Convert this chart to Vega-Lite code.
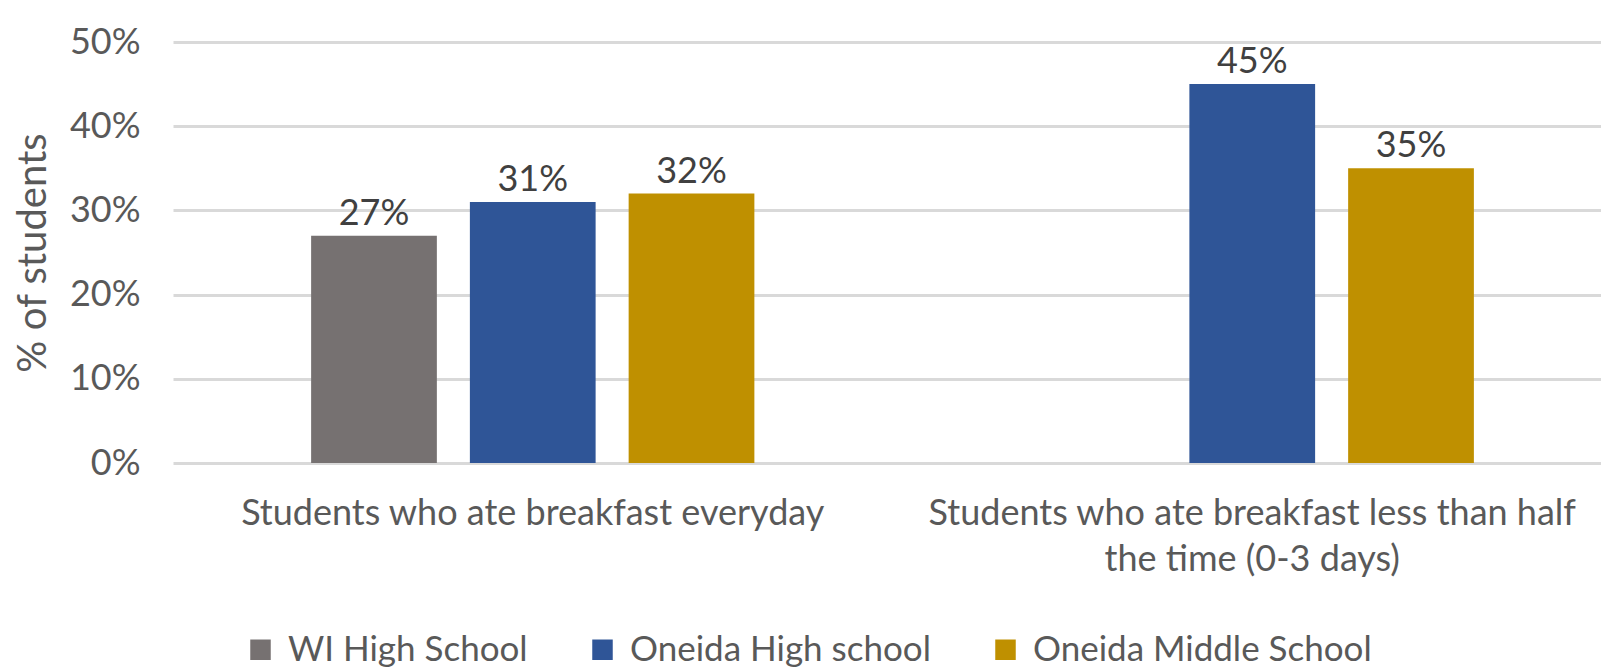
{
  "$schema": "https://vega.github.io/schema/vega-lite/v6.json",
  "width": 1426,
  "height": 421,
  "autosize": {"type": "none"},
  "padding": {"left": 175, "top": 42, "right": 0, "bottom": 208},
  "background": "white",
  "config": {
    "view": {"stroke": null},
    "font": "Lato",
    "axis": {"labelFont": "Lato", "titleFont": "Lato"},
    "legend": {"labelFont": "Lato"}
  },
  "data": {
    "values": [
      {"category": "Students who ate breakfast everyday", "school": "WI High School", "value": 0.27},
      {"category": "Students who ate breakfast everyday", "school": "Oneida High school", "value": 0.31},
      {"category": "Students who ate breakfast everyday", "school": "Oneida Middle School", "value": 0.32},
      {"category": "Students who ate breakfast less than half the time (0-3 days)", "school": "Oneida High school", "value": 0.45},
      {"category": "Students who ate breakfast less than half the time (0-3 days)", "school": "Oneida Middle School", "value": 0.35}
    ]
  },
  "encoding": {
    "x": {
      "field": "category",
      "type": "nominal",
      "sort": null,
      "scale": {"range": [-2, 1437], "paddingInner": 0, "paddingOuter": 0},
      "axis": {
        "title": null,
        "domain": false,
        "ticks": false,
        "labelAngle": 0,
        "labelFontSize": 36,
        "labelColor": "#595959",
        "labelPadding": 33,
        "labelLimit": 0,
        "labelLineHeight": 46,
        "labelExpr": "datum.value == 'Students who ate breakfast less than half the time (0-3 days)' ? ['Students who ate breakfast less than half', 'the time (0-3 days)'] : datum.value"
      }
    },
    "xOffset": {
      "field": "school",
      "type": "nominal",
      "scale": {
        "domain": ["WI High School", "Oneida High school", "Oneida Middle School"],
        "paddingInner": 0.208,
        "paddingOuter": 0.87
      }
    },
    "y": {
      "field": "value",
      "type": "quantitative",
      "scale": {"domain": [0, 0.5]},
      "axis": {
        "values": [0, 0.1, 0.2, 0.3, 0.4, 0.5],
        "format": ".0%",
        "title": "% of students",
        "titleFontSize": 40,
        "titleFontWeight": "normal",
        "titleColor": "#595959",
        "titlePadding": 16,
        "labelFontSize": 36,
        "labelColor": "#595959",
        "labelPadding": 35,
        "domain": false,
        "ticks": false,
        "grid": true,
        "gridColor": "#D9D9D9",
        "gridWidth": 3
      }
    }
  },
  "layer": [
    {
      "mark": {"type": "bar"},
      "encoding": {
        "color": {
          "field": "school",
          "type": "nominal",
          "scale": {
            "domain": ["WI High School", "Oneida High school", "Oneida Middle School"],
            "range": ["#767171", "#2F5597", "#BF9000"]
          },
          "legend": {
            "title": null,
            "orient": "none",
            "direction": "horizontal",
            "legendX": 68,
            "legendY": 590,
            "symbolType": "square",
            "symbolSize": 420,
            "symbolStrokeWidth": 0,
            "labelFontSize": 35,
            "labelColor": "#595959",
            "labelOffset": 10,
            "columnPadding": 57,
            "labelLimit": 0
          }
        }
      }
    },
    {
      "mark": {"type": "text", "dy": -11, "baseline": "alphabetic", "fontSize": 36, "color": "#404040"},
      "encoding": {
        "text": {"field": "value", "type": "quantitative", "format": ".0%"}
      }
    }
  ]
}
